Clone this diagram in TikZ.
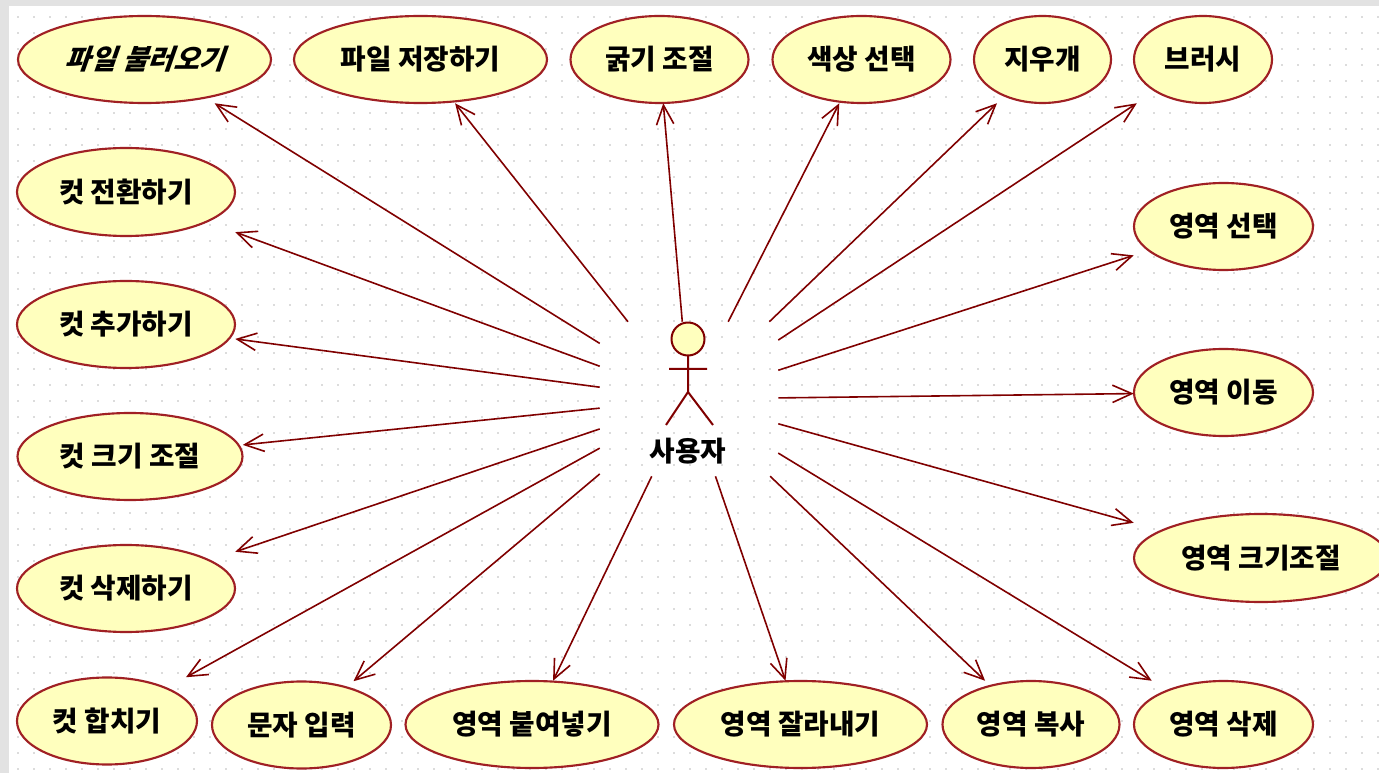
\documentclass[tikz,border=0pt]{standalone}
\usepackage{fontspec}
\setmainfont{Noto Sans CJK KR}
\newfontfamily\slantfont[BoldFeatures={FakeSlant=0.35}]{Noto Sans CJK KR}
\usetikzlibrary{arrows.meta}
\definecolor{ucred}{RGB}{128,0,0}
\definecolor{ucedge}{RGB}{160,32,36}
\definecolor{ucfill}{RGB}{255,255,190}
\definecolor{griddot}{RGB}{185,185,185}
\definecolor{framegray}{RGB}{226,226,226}
\tikzset{
	ucshape/.style={draw=ucedge,fill=ucfill,line width=1.6pt},
	ucbox/.style={rectangle,inner sep=0pt,font=\fontsize{20.8}{24}\selectfont\bfseries},
	assoc/.style={->,draw=ucred,line width=1.2pt},
	stick/.style={draw=ucred,line width=1.5pt}
}
\begin{document}
\begin{tikzpicture}[>={Straight Barb[length=14.5pt,width=13pt]},line join=round,x=0.75pt,y=-0.75pt]
	\useasboundingbox (0,0) rectangle (1379,773);
	\clip (0,0) rectangle (1379,773);
	% frame and grid
	\fill[framegray] (0,0) rectangle (1379,773);
	\fill[white] (9,6) rectangle (1379,773);
	\foreach \i in {0,...,85}{
		\foreach \j in {0,...,47}{
			\fill[griddot] ({18+16*\i},{17+16*\j}) circle(0.8);
		}
	}
	% use cases
	\foreach \nm/\x/\y/\rx/\ry/\txt in {
		fileopen/144.5/59.5/126.5/43.5/{\slantfont 파일 불러오기},
		filesave/420.5/59.5/126.5/43.5/파일 저장하기,
		thick/659.5/59.5/89/43.5/굵기 조절,
		colorpick/861.5/59.5/89/43.5/색상 선택,
		eraser/1042.5/59.5/68.5/43.5/지우개,
		brush/1203/59.5/69/43.5/브러시,
		cutswitch/126/192/109/44/컷 전환하기,
		cutadd/126/324.5/109/43.5/컷 추가하기,
		cutresize/130/456.5/112.5/43.5/컷 크기 조절,
		cutdel/126/588.5/109/43.5/컷 삭제하기,
		cutmerge/107/721/90/43.5/컷 합치기,
		charinput/301.5/725/89.5/43.5/문자 입력,
		areapaste/532/724.5/126.5/43.5/영역 붙여넣기,
		areacut/800.5/724.5/126.5/43.5/영역 잘라내기,
		areacopy/1031/724.5/88.5/43.5/영역 복사,
		areadel/1223.5/724.5/89.5/43.5/영역 삭제,
		arearesize/1261/558/127/44/영역 크기조절,
		areamove/1223.5/392.5/89.5/43.5/영역 이동,
		areaselect/1223.5/226.5/89.5/43.5/영역 선택%
	}{
		\draw[ucshape] (\x,\y) ellipse [x radius=\rx,y radius=\ry];
		\node[ucbox,minimum width={2*\rx*0.75pt},minimum height={2*\ry*0.75pt}] (\nm) at (\x,\y) {\raisebox{-1pt}{\txt}};
	}
	% actor
	\node[rectangle,inner sep=0pt,minimum width=133.5pt,minimum height=115.5pt] (usr) at (689,399) {};
	\draw[stick,fill=ucfill] (688,339) circle(16.5);
	\draw[stick] (688,356)--(688,392) (669,369)--(707,369) (666,425)--(688,392)--(713,425);
	\node[ucbox] (usrname) at (688,451) {사용자};
	% associations
	\foreach \nm in {fileopen,filesave,thick,colorpick,eraser,brush,cutswitch,cutadd,cutresize,cutdel,cutmerge,charinput,areapaste,areacut,areacopy,areadel,arearesize,areamove,areaselect}{
		\draw[assoc] (usr) -- (\nm);
	}
\end{tikzpicture}
\end{document}
